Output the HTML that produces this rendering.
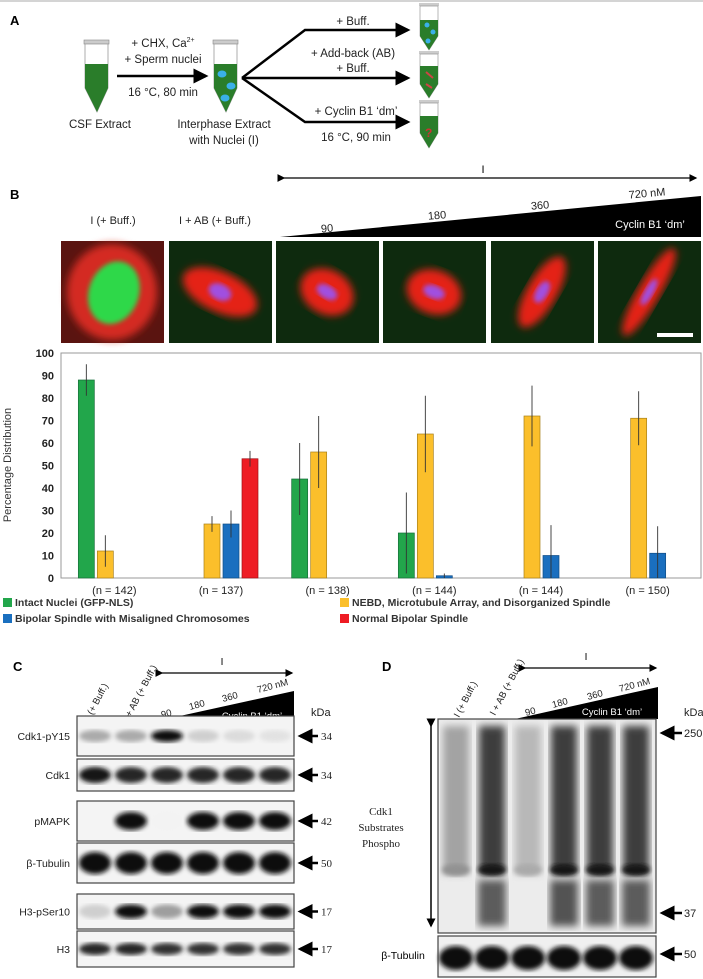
<!DOCTYPE html>
<html><head><meta charset="utf-8">
<style>
html,body{margin:0;padding:0;background:#fff;}
svg{display:block;font-family:"Liberation Sans",Arial,sans-serif;}
</style></head>
<body>
<svg id="fig" width="703" height="979" viewBox="0 0 703 979" xmlns="http://www.w3.org/2000/svg">
<defs>
<filter id="blur2"><feGaussianBlur stdDeviation="2.5"/></filter>
<filter id="blur4"><feGaussianBlur stdDeviation="4"/></filter>
<filter id="blur6"><feGaussianBlur stdDeviation="7"/></filter>
<marker id="ah" markerWidth="6" markerHeight="6" refX="5" refY="3" orient="auto"><path d="M0,0 L6,3 L0,6 z" fill="#000"/></marker>
</defs>
<line x1="0" y1="1" x2="703" y2="1" stroke="#aaa" stroke-width="1"/>

<!-- Panel A -->
<g>
<text x="10" y="25" font-size="13" font-weight="bold">A</text>
<g>
<rect x="84" y="40" width="25" height="4" fill="#ccc" stroke="#888" stroke-width="0.6"/>
<path d="M85,44 L108,44 L108,88 L97,112 L85,88 Z" fill="#fff" stroke="#999" stroke-width="0.8"/>
<path d="M85,64 L108,64 L108,88 L97,112 L85,88 Z" fill="#2a7d2a"/>
</g>
<g>
<rect x="213" y="40" width="25" height="4" fill="#ccc" stroke="#888" stroke-width="0.6"/>
<path d="M214,44 L237,44 L237,88 L226,112 L214,88 Z" fill="#fff" stroke="#999" stroke-width="0.8"/>
<path d="M214,64 L237,64 L237,88 L226,112 L214,88 Z" fill="#2a7d2a"/>
<ellipse cx="222" cy="74" rx="4.5" ry="3.5" fill="#3ab0e8"/>
<ellipse cx="231" cy="86" rx="4.5" ry="3.5" fill="#3ab0e8"/>
<ellipse cx="225" cy="98" rx="4.5" ry="3.5" fill="#3ab0e8"/>
</g>
<g>
<g transform="translate(0,0)"><rect x="419" y="3" width="20" height="3" fill="#ccc"/><path d="M420,6 L438,6 L438,36 L429,50 L420,36 Z" fill="#fff" stroke="#999" stroke-width="0.7"/><path d="M420,20 L438,20 L438,36 L429,50 L420,36 Z" fill="#2a7d2a"/><circle cx="427" cy="25" r="2.5" fill="#3ab0e8"/><circle cx="433" cy="32" r="2.5" fill="#3ab0e8"/><circle cx="428" cy="41" r="2.5" fill="#3ab0e8"/></g>
<g><rect x="419" y="51" width="20" height="3" fill="#ccc"/><path d="M420,54 L438,54 L438,84 L429,98 L420,84 Z" fill="#fff" stroke="#999" stroke-width="0.7"/><path d="M420,66 L438,66 L438,84 L429,98 L420,84 Z" fill="#2a7d2a"/><path d="M426,72 L433,78 M426,84 L432,88" stroke="#c44" stroke-width="2"/></g>
<g><rect x="419" y="100" width="20" height="3" fill="#ccc"/><path d="M420,103 L438,103 L438,133 L429,148 L420,133 Z" fill="#fff" stroke="#999" stroke-width="0.7"/><path d="M420,116 L438,116 L438,133 L429,148 L420,133 Z" fill="#2a7d2a"/><text x="425" y="137" font-size="12" fill="#c33" font-weight="bold">?</text></g>
</g>
<g stroke="#000" stroke-width="3" fill="none">
<line x1="117" y1="76" x2="206" y2="76" marker-end="url(#ah)" stroke-width="2.5"/>
<polyline points="242,78 305,30 408,30" marker-end="url(#ah)" stroke-width="2.5"/>
<line x1="242" y1="78" x2="408" y2="78" marker-end="url(#ah)" stroke-width="2.5"/>
<polyline points="242,78 305,122 408,122" marker-end="url(#ah)" stroke-width="2.5"/>
</g>
<g font-size="11.5" text-anchor="middle" fill="#222">
<text x="163" y="47">+ CHX, Ca<tspan font-size="7" dy="-5">2+</tspan></text>
<text x="163" y="63">+ Sperm nuclei</text>
<text x="163" y="96">16 °C, 80 min</text>
<text x="100" y="128">CSF Extract</text>
<text x="224" y="128">Interphase Extract</text>
<text x="224" y="144">with Nuclei (I)</text>
<text x="353" y="25">+ Buff.</text>
<text x="353" y="57">+ Add-back (AB)</text>
<text x="353" y="72">+ Buff.</text>
<text x="356" y="115">+ Cyclin B1 ‘dm’</text>
<text x="356" y="141">16 °C, 90 min</text>
</g>
</g>

<!-- Panel B header -->
<g>
<text x="10" y="199" font-size="13" font-weight="bold">B</text>
<line x1="284" y1="178" x2="696" y2="178" stroke="#000" stroke-width="1.3" marker-end="url(#ah)" marker-start="url(#ah)"/>
<text x="483" y="173" font-size="11" text-anchor="middle">I</text>
<polygon points="280,237 701,196 701,237" fill="#000"/>
<g font-size="11" fill="#222" text-anchor="middle">
<text x="113" y="224">I (+ Buff.)</text>
<text x="215" y="224">I + AB (+ Buff.)</text>
<text x="327" y="232" transform="rotate(-5 327 228)">90</text>
<text x="437" y="219" transform="rotate(-5 437 215)">180</text>
<text x="540" y="209" transform="rotate(-5 540 205)">360</text>
<text x="647" y="197" transform="rotate(-5 647 193)">720 nM</text>
<text x="650" y="228" fill="#fff">Cyclin B1 ‘dm’</text>
</g>
</g>

<!-- Micrographs -->
<g id="micro"></g>

<!-- Chart -->
<g id="chart"></g>

<!-- Panel C -->
<g id="panelC">
<text x="13" y="671" font-size="13" font-weight="bold">C</text>
<line x1="162" y1="673" x2="292" y2="673" stroke="#000" stroke-width="1.3" marker-end="url(#ah)" marker-start="url(#ah)"/>
<text x="222" y="665" font-size="10" text-anchor="middle">I</text>
<polygon points="148,723 294,691 294,723" fill="#000"/>
<g font-size="9.5" fill="#222">
<text x="90" y="720" transform="rotate(-62 90 720)">I (+ Buff.)</text>
<text x="128" y="722" transform="rotate(-62 128 722)">I + AB (+ Buff.)</text>
<text x="162" y="718" transform="rotate(-15 162 718)">90</text>
<text x="190" y="710" transform="rotate(-15 190 710)">180</text>
<text x="223" y="702" transform="rotate(-15 223 702)">360</text>
<text x="258" y="693" transform="rotate(-15 258 693)">720 nM</text>
<text x="252" y="719" fill="#fff" text-anchor="middle">Cyclin B1 ‘dm’</text>
<text x="311" y="716" font-size="11">kDa</text>
</g>
</g>

<!-- Panel D -->
<g id="panelD">
<text x="382" y="671" font-size="13" font-weight="bold">D</text>
<line x1="525" y1="668" x2="656" y2="668" stroke="#000" stroke-width="1.3" marker-end="url(#ah)" marker-start="url(#ah)"/>
<text x="586" y="660" font-size="10" text-anchor="middle">I</text>
<polygon points="515,719 658,687 658,719" fill="#000"/>
<g font-size="9.5" fill="#222">
<text x="459" y="718" transform="rotate(-62 459 718)">I (+ Buff.)</text>
<text x="495" y="716" transform="rotate(-62 495 716)">I + AB (+ Buff.)</text>
<text x="526" y="716" transform="rotate(-15 526 716)">90</text>
<text x="553" y="708" transform="rotate(-15 553 708)">180</text>
<text x="588" y="700" transform="rotate(-15 588 700)">360</text>
<text x="620" y="692" transform="rotate(-15 620 692)">720 nM</text>
<text x="612" y="715" fill="#fff" text-anchor="middle">Cyclin B1 ‘dm’</text>
<text x="684" y="716" font-size="11">kDa</text>
</g>
<line x1="431" y1="726" x2="431" y2="926" stroke="#000" stroke-width="1.5" marker-end="url(#ah)" marker-start="url(#ah)"/>
<g font-family="Liberation Serif,serif" font-size="11" text-anchor="middle" fill="#222">
<text x="381" y="815">Cdk1</text><text x="381" y="831">Substrates</text><text x="381" y="847">Phospho</text>
</g>
<text x="403" y="959" font-size="10.5" text-anchor="middle">β-Tubulin</text>
</g>

<script>
const NS='http://www.w3.org/2000/svg';
function mk(parent,tag,attrs){const e=document.createElementNS(NS,tag);for(const k in attrs)e.setAttribute(k,attrs[k]);parent.appendChild(e);return e;}

// ===== Chart data =====
const categories=['(n = 142)','(n = 137)','(n = 138)','(n = 144)','(n = 144)','(n = 150)'];
const seriesNames=['Intact Nuclei (GFP-NLS)','NEBD, Microtubule Array, and Disorganized Spindle','Bipolar Spindle with Misaligned Chromosomes','Normal Bipolar Spindle'];
const intactNuclei=[88,0,44,20,0,0];
const nebdDisorganized=[12,24,56,64,72,71];
const bipolarMisaligned=[0,24,0,1,10,11];
const normalBipolar=[0,53,0,0,0,0];
const intactErr=[7,0,16,18,0,0];
const nebdErr=[7,3.5,16,17,13.5,12];
const misalignedErr=[0,6,0,1,13.5,12];
const normalErr=[0,3.5,0,0,0,0];
const yTicks=[0,10,20,30,40,50,60,70,80,90,100];

const colors=['#22a64b','#fbbf2b','#1a6fbf','#ee1c24'];
const strokes=['#16703a','#a8801a','#124d85','#a01218'];
const plot={x0:61,x1:701,y0:353,y1:578};
function yScale(v){return plot.y1-(v/100)*(plot.y1-plot.y0);}
function xCenter(i){const w=(plot.x1-plot.x0)/categories.length;return plot.x0+w*(i+0.5);}
const slotOff=[-36,-17,2,21];const bw=16;

const chart=document.getElementById('chart');
const box=mk(chart,'rect',{x:plot.x0,y:plot.y0,width:plot.x1-plot.x0,height:plot.y1-plot.y0,fill:'#fff',stroke:'#999','stroke-width':1});


yTicks.forEach(t=>{
  const tx=mk(chart,'text',{x:54,y:yScale(t)+4,'font-size':11,'font-weight':'bold','text-anchor':'end',fill:'#222'});
  tx.textContent=t;
  
  
});
const yt=mk(chart,'text',{x:11,y:465,'font-size':11,'text-anchor':'middle',fill:'#333',transform:'rotate(-90 11 465)'});
yt.textContent='Percentage Distribution';


const series=[intactNuclei,nebdDisorganized,bipolarMisaligned,normalBipolar];
const errs=[intactErr,nebdErr,misalignedErr,normalErr];
categories.forEach((c,i)=>{
  const cx=xCenter(i);
  const lab=mk(chart,'text',{x:cx,y:594,'font-size':11,'text-anchor':'middle',fill:'#222'});
  lab.textContent=c;
  
  
  series.forEach((s,k)=>{
    const v=s[i];if(v<=0)return;
    const x=cx+slotOff[k];
    const r=mk(chart,'rect',{x:x,y:yScale(v),width:bw,height:yScale(0)-yScale(v),fill:colors[k],stroke:strokes[k],'stroke-width':0.7});
    
    
    const e=errs[k][i];
    if(e>0){
      const el=mk(chart,'line',{x1:x+bw/2,x2:x+bw/2,y1:yScale(v+e),y2:yScale(Math.max(0,v-e)),stroke:'#333','stroke-width':0.9});
      
      
    }
  });
});
// legend
const legPos=[[3,606],[340,606],[3,622],[340,622]];
seriesNames.forEach((n,k)=>{
  const g=mk(chart,'g',{});
  
  
  mk(g,'rect',{x:legPos[k][0],y:legPos[k][1]-8,width:9,height:9,fill:colors[k]});
  const t=mk(g,'text',{x:legPos[k][0]+12,y:legPos[k][1],'font-size':10.5,'font-weight':'bold',fill:'#333'});
  t.textContent=n;
});

// ===== Micrographs =====
const micro=document.getElementById('micro');
const px=[61,169,276,383,491,598];
px.forEach((x,i)=>{
  const g=mk(micro,'g',{});
  
  
  mk(g,'rect',{x:x,y:241,width:103,height:102,fill:i==0?'#5a1410':'#0e2a0e'});
  const cx=x+51,cy=292;
  if(i==0){
    mk(g,'ellipse',{cx:cx,cy:cy,rx:45,ry:48,fill:'#d42a20',filter:'url(#blur4)'});
    mk(g,'ellipse',{cx:cx+2,cy:cy,rx:25,ry:32,fill:'#2ed84a',filter:'url(#blur2)','transform':`rotate(20 ${cx} ${cy})`});
  } else {
    const rot=[0,25,-60,-70,-60,-60][i];
    const rx=[0,40,22,22,40,50][i], ry=[0,20,28,28,15,11][i];
    mk(g,'ellipse',{cx:cx,cy:cy,rx:rx,ry:ry,fill:'#e42218',filter:'url(#blur4)',transform:`rotate(${rot} ${cx} ${cy})`});
    mk(g,'ellipse',{cx:cx,cy:cy,rx:rx*0.3,ry:ry*0.4,fill:'#a050e0',filter:'url(#blur2)',transform:`rotate(${rot} ${cx} ${cy})`});
  }
});
mk(micro,'rect',{x:657,y:333,width:36,height:4,fill:'#fff'});

// ===== Western blots =====
const laneC=[95,131,167,203,239,275];
const laneD=[456,492,528,564,600,636];
const blotsC=[
 {name:'Cdk1-pY15',y:716,h:40,kda:'34',inten:[0.35,0.35,1,0.2,0.15,0.12],bh:12},
 {name:'Cdk1',y:759,h:32,kda:'34',inten:[0.95,0.9,0.9,0.9,0.9,0.9],bh:16},
 {name:'pMAPK',y:801,h:40,kda:'42',inten:[0.02,1,0.05,1,1,1],bh:18},
 {name:'β-Tubulin',y:843,h:40,kda:'50',inten:[1,1,1,1,1,1],bh:22},
 {name:'H3-pSer10',y:894,h:35,kda:'17',inten:[0.2,1,0.4,1,1,1],bh:14},
 {name:'H3',y:931,h:36,kda:'17',inten:[0.9,0.9,0.85,0.85,0.85,0.85],bh:12},
];
const pc=document.getElementById('panelC');
blotsC.forEach(b=>{
  const g=mk(pc,'g',{});
  
  
  const cp='cp'+b.y;
  const clip=mk(g,'clipPath',{id:cp});mk(clip,'rect',{x:77,y:b.y,width:217,height:b.h});
  mk(g,'rect',{x:77,y:b.y,width:217,height:b.h,fill:'#f4f4f4'});
  const inner=mk(g,'g',{'clip-path':`url(#${cp})`});
  b.inten.forEach((v,i)=>{
    if(v<0.03)return;
    const s=Math.round(255*(1-v*0.95));
    mk(inner,'ellipse',{cx:laneC[i],cy:b.y+b.h/2,rx:16,ry:b.bh/2,fill:`rgb(${s},${s},${s})`,filter:'url(#blur2)'});
  });
  mk(g,'rect',{x:77,y:b.y,width:217,height:b.h,fill:'none',stroke:'#444','stroke-width':1.2});
  const t=mk(g,'text',{x:70,y:b.y+b.h/2+4,'font-size':10.5,'text-anchor':'end',fill:'#222'});t.textContent=b.name;
  mk(g,'line',{x1:318,y1:b.y+b.h/2,x2:300,y2:b.y+b.h/2,stroke:'#000','stroke-width':2.5,'marker-end':'url(#ah)'});
  const k=mk(g,'text',{x:321,y:b.y+b.h/2+4,'font-size':11,'font-family':'Liberation Serif,serif',fill:'#222'});k.textContent=b.kda;
});

const pd=document.getElementById('panelD');
const smearInten=[0.45,0.95,0.35,0.95,0.95,0.95];
const lowBand=[0,0.8,0,0.85,0.8,0.8];
const gD=mk(pd,'g',{});


const clipD=mk(gD,'clipPath',{id:'cpD'});mk(clipD,'rect',{x:438,y:719,width:218,height:214});
mk(gD,'rect',{x:438,y:719,width:218,height:214,fill:'#ececec'});
const innD=mk(gD,'g',{'clip-path':'url(#cpD)'});
smearInten.forEach((v,i)=>{
  const s=Math.round(255*(1-v*0.8));
  mk(innD,'rect',{x:laneD[i]-13,y:726,width:26,height:148,fill:`rgb(${s},${s},${s})`,filter:'url(#blur4)'});
  const s2=Math.round(255*(1-v*0.95));
  mk(innD,'ellipse',{cx:laneD[i],cy:870,rx:14,ry:6,fill:`rgb(${s2},${s2},${s2})`,filter:'url(#blur2)'});
  if(lowBand[i]>0){const s3=Math.round(255*(1-lowBand[i]*0.8));
    mk(innD,'rect',{x:laneD[i]-14,y:880,width:28,height:46,fill:`rgb(${s3},${s3},${s3})`,filter:'url(#blur4)'});}
});
mk(gD,'rect',{x:438,y:719,width:218,height:214,fill:'none',stroke:'#444','stroke-width':1.2});
[[250,733],[37,913]].forEach(a=>{
  mk(pd,'line',{x1:682,y1:a[1],x2:662,y2:a[1],stroke:'#000','stroke-width':2.5,'marker-end':'url(#ah)'});
  const k=mk(pd,'text',{x:684,y:a[1]+4,'font-size':11,fill:'#222'});k.textContent=a[0];
});
const gT=mk(pd,'g',{});


mk(gT,'rect',{x:438,y:936,width:218,height:41,fill:'#f0f0f0'});
laneD.forEach(x=>{mk(gT,'ellipse',{cx:x,cy:958,rx:17,ry:12,fill:'#111',filter:'url(#blur2)'});});
mk(gT,'rect',{x:438,y:936,width:218,height:41,fill:'none',stroke:'#444','stroke-width':1.2});
mk(pd,'line',{x1:682,y1:954,x2:662,y2:954,stroke:'#000','stroke-width':2.5,'marker-end':'url(#ah)'});
const k50=mk(pd,'text',{x:684,y:958,'font-size':11,fill:'#222'});k50.textContent='50';
</script>
</svg>
</body></html>
